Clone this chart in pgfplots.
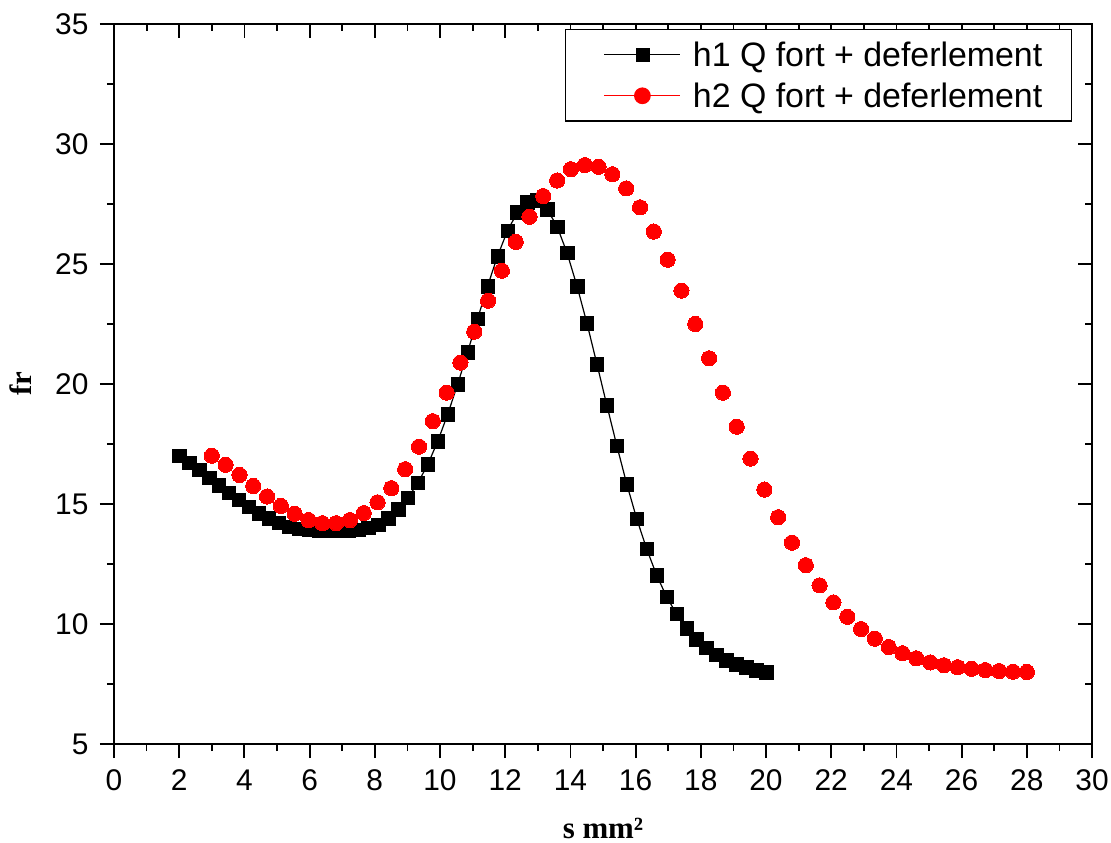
\documentclass[border=0pt]{standalone}
\usepackage{pgfplots}
\pgfplotsset{compat=1.18}
\usepackage{pgfplotstable}
\usepackage{fontspec}
\setmainfont{Liberation Sans}
\newfontfamily\timesfont{Liberation Serif}

\pgfplotstableread{
x y
2.000 17.00
2.305 16.72
2.610 16.43
2.915 16.10
3.220 15.79
3.525 15.48
3.831 15.17
4.136 14.89
4.441 14.62
4.746 14.40
5.051 14.21
5.356 14.06
5.661 13.98
5.966 13.93
6.271 13.91
6.576 13.90
6.881 13.90
7.186 13.91
7.492 13.94
7.797 14.00
8.102 14.13
8.407 14.40
8.712 14.78
9.017 15.26
9.322 15.88
9.627 16.65
9.932 17.62
10.237 18.74
10.542 19.99
10.847 21.33
11.153 22.72
11.458 24.07
11.763 25.32
12.068 26.38
12.373 27.15
12.678 27.58
12.983 27.65
13.288 27.28
13.593 26.56
13.898 25.46
14.203 24.08
14.508 22.53
14.814 20.83
15.119 19.11
15.424 17.43
15.729 15.83
16.034 14.39
16.339 13.13
16.644 12.04
16.949 11.14
17.254 10.42
17.559 9.82
17.864 9.36
18.169 9.00
18.475 8.72
18.780 8.50
19.085 8.32
19.390 8.20
19.695 8.08
20.000 8.00
}\blackdata

\pgfplotstableread{
x y
3.000 17.01
3.424 16.63
3.847 16.21
4.271 15.75
4.695 15.31
5.119 14.92
5.542 14.59
5.966 14.33
6.390 14.20
6.814 14.20
7.237 14.33
7.661 14.62
8.085 15.07
8.508 15.66
8.932 16.45
9.356 17.39
9.780 18.45
10.203 19.64
10.627 20.89
11.051 22.18
11.475 23.47
11.898 24.72
12.322 25.92
12.746 26.97
13.169 27.83
13.593 28.48
14.017 28.95
14.441 29.12
14.864 29.05
15.288 28.74
15.712 28.15
16.136 27.36
16.559 26.35
16.983 25.18
17.407 23.89
17.831 22.50
18.254 21.07
18.678 19.64
19.102 18.22
19.525 16.89
19.949 15.60
20.373 14.45
20.797 13.39
21.220 12.45
21.644 11.61
22.068 10.90
22.492 10.30
22.915 9.79
23.339 9.39
23.763 9.04
24.186 8.78
24.610 8.57
25.034 8.40
25.458 8.28
25.881 8.20
26.305 8.13
26.729 8.08
27.153 8.04
27.576 8.01
28.000 8.00
}\reddata

\pgfplotsset{
  common/.style={
    at={(0bp,0bp)}, anchor=south west,
    scale only axis, width=978bp, height=720bp,
    xmin=0, xmax=30, ymin=5, ymax=35,
    xtick={0,2,...,30}, ytick={5,10,...,35},
    minor x tick num=1, minor y tick num=1,
    major tick length=14bp, minor tick length=7bp,
    axis line style={line width=2bp},
    every tick/.style={line width=1.8bp, black},
  }
}

\begin{document}
\begin{tikzpicture}
\path[use as bounding box] (-114bp,-99bp) rectangle (997bp,744bp);
\begin{axis}[common, tick align=inside, xtick pos=right, ytick pos=right,
  xticklabels={}, yticklabels={}]
\addplot[draw=none] coordinates {(1,10)};
\end{axis}
\begin{axis}[common, tick align=outside, xtick pos=left, ytick pos=left,
  tick label style={font=\fontsize{30}{34}\selectfont},
  xticklabel style={yshift=-8bp},
  yticklabel style={xshift=-8bp},
  /pgf/number format/assume math mode=true,
  xlabel={s mm²}, ylabel={fr},
  xlabel style={at={(axis description cs:0.5,-0.1167)}, anchor=center,
    font=\timesfont\bfseries\fontsize{31}{36}\selectfont},
  ylabel style={at={(axis description cs:-0.095,0.5)}, anchor=center,
    font=\timesfont\bfseries\fontsize{31}{36}\selectfont},
  legend style={at={(axis description cs:1,1)}, anchor=north east,
    xshift=-20bp, yshift=-5bp, draw=black, line width=1.5bp, fill=white,
    font=\fontsize{34}{40}\selectfont, inner xsep=27bp, inner ysep=10bp,
    row sep=11bp,
    /tikz/every odd column/.append style={column sep=10bp}},
  legend cell align=left,
]
\addplot[black, line width=1.2bp, mark=square*, mark size=6.7bp,
  mark options={solid, fill=black, line width=0.4bp},
  legend image code/.code={\path (-11bp,0bp); \draw[mark repeat=2,mark phase=2] plot coordinates {(0bp,0bp)(38bp,0bp)(76bp,0bp)};}]
  table {\blackdata};
\addlegendentry{h1 Q fort + deferlement}
\addplot[red, only marks, mark=*, mark size=7.6bp,
  mark options={draw=red, fill=red, line width=0bp},
  legend image code/.code={\path (-11bp,0bp); \draw[red, line width=1.2bp] (0bp,0bp)--(76bp,0bp); \fill[red] (38bp,0bp) circle (7.6bp);}]
  table {\reddata};
\addlegendentry{h2 Q fort + deferlement}
\end{axis}
\end{tikzpicture}
\end{document}
